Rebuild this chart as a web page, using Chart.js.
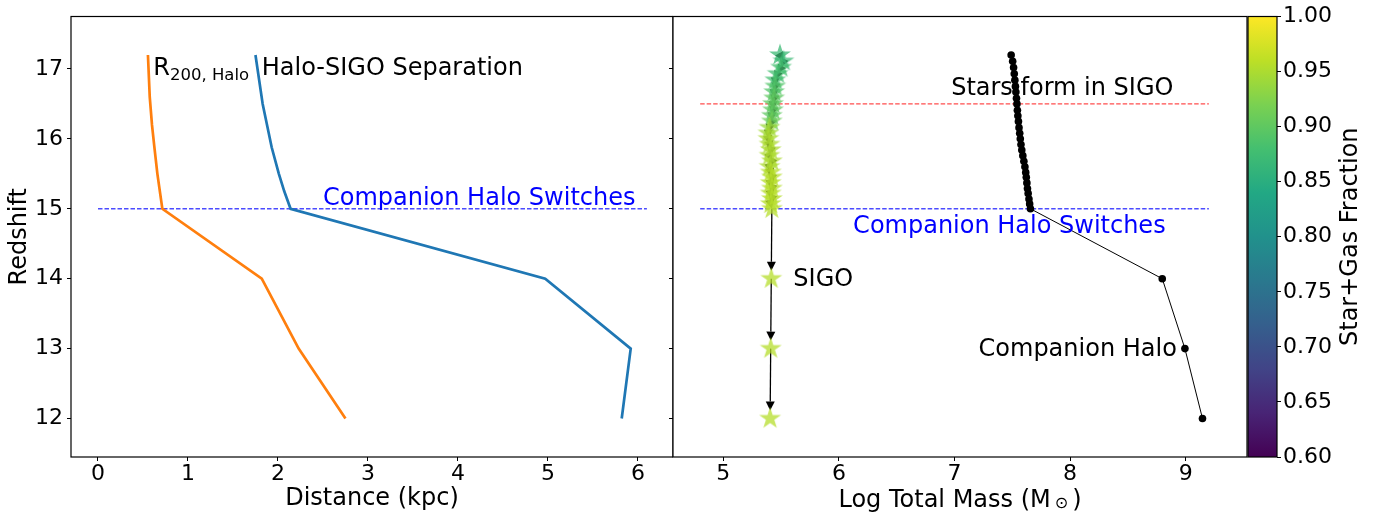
<!DOCTYPE html>
<html>
<head>
<meta charset="utf-8">
<script src="https://cdn.jsdelivr.net/npm/chart.js@4/dist/chart.umd.min.js"></script>
<style>
  html, body { margin: 0; padding: 0; background: #fff; }
  #wrap { position: relative; width: 1374px; height: 513px; overflow: hidden; }
  #wrap canvas { position: absolute; top: 0; }
</style>
</head>
<body>
<div id="wrap">
  <canvas id="left" width="673" height="513" style="left:0"></canvas>
  <canvas id="right" width="585" height="513" style="left:663px"></canvas>
  <canvas id="cbar" width="134" height="513" style="left:1240px"></canvas>
</div>
<script>
// Values

// left panel: distance (kpc) against redshift
const separationRedshift = [17.2, 16.5, 15.88, 15.5, 15.25, 15.0, 14.0, 13.0, 12.0];
const separationDistance = [1.75, 1.83, 1.93, 2.01, 2.07, 2.14, 4.97, 5.92, 5.82];
const r200Redshift = [17.2, 16.6, 16.2, 15.9, 15.5, 15.0, 14.0, 13.0, 12.0];
const r200Distance = [0.555, 0.575, 0.60, 0.625, 0.66, 0.715, 1.82, 2.23, 2.75];
const switchLineDistance = [0, 6.1];
const switchRedshift = 15;

// right panel: log total mass against redshift
const trackRedshift = [17.20, 17.11, 17.02, 16.93, 16.84, 16.75, 16.67, 16.58, 16.50, 16.41,
  16.33, 16.25, 16.16, 16.08, 16.00, 15.92, 15.84, 15.76, 15.68, 15.60,
  15.52, 15.45, 15.37, 15.29, 15.22, 15.14, 15.07, 15.00, 14.00, 13.00, 12.00];
const sigoMass = [5.49, 5.52, 5.50, 5.47, 5.45, 5.45, 5.44, 5.44, 5.43, 5.43,
  5.42, 5.42, 5.40, 5.39, 5.39, 5.40, 5.41, 5.40, 5.42, 5.40,
  5.41, 5.42, 5.41, 5.42, 5.41, 5.42, 5.41, 5.42, 5.415, 5.41, 5.405];
const sigoFraction = [0.87, 0.87, 0.88, 0.88, 0.88, 0.89, 0.89, 0.90, 0.90, 0.90,
  0.90, 0.91, 0.94, 0.945, 0.95, 0.95, 0.95, 0.95, 0.95, 0.95,
  0.955, 0.955, 0.955, 0.955, 0.955, 0.955, 0.955, 0.955, 0.955, 0.955, 0.955];
const haloMass = [7.490, 7.503, 7.511, 7.517, 7.522, 7.527, 7.531, 7.536, 7.540, 7.544,
  7.548, 7.553, 7.558, 7.564, 7.569, 7.575, 7.582, 7.591, 7.600, 7.609,
  7.616, 7.621, 7.626, 7.631, 7.637, 7.644, 7.650, 7.657, 8.797, 8.993, 9.145];
const markerLineMass = [4.8, 9.2];
const starFormRedshift = 16.5;

// tick labels
const distanceTicks = [0, 1, 2, 3, 4, 5, 6];
const redshiftTicks = [12, 13, 14, 15, 16, 17];
const massTicks = [5, 6, 7, 8, 9];
const fractionTicks = [0.60, 0.65, 0.70, 0.75, 0.80, 0.85, 0.90, 0.95, 1.00];

// viridis colour map
const viridisStops = ['#440154', '#482475', '#414487', '#355f8d', '#2a788e', '#21918c',
  '#22a884', '#44bf70', '#7ad151', '#bddf26', '#fde725'];

function hexRgb(h) {
  return [parseInt(h.slice(1, 3), 16), parseInt(h.slice(3, 5), 16), parseInt(h.slice(5, 7), 16)];
}

function viridis(v) {
  const lo = fractionTicks[0], hi = fractionTicks[fractionTicks.length - 1];
  let t = Math.min(1, Math.max(0, (v - lo) / (hi - lo))) * (viridisStops.length - 1);
  const i = Math.min(Math.floor(t), viridisStops.length - 2);
  const f = t - i;
  const a = hexRgb(viridisStops[i]), b = hexRgb(viridisStops[i + 1]);
  return a.map((c, k) => Math.round(c + (b[k] - c) * f));
}

Chart.defaults.font.family = 'DejaVu Sans';
Chart.defaults.color = '#000';

const FONT = 'DejaVu Sans';
const TICK_SIZE = 22;
const TEXT_SIZE = 24;

// star marker images, one per colour
const starCache = {};
function starImage(v) {
  const rgb = viridis(v);
  const key = rgb.join(',');
  if (starCache[key]) return starCache[key];
  const c = document.createElement('canvas');
  c.width = 26; c.height = 26;
  const g = c.getContext('2d');
  const R = 11.5, r = R * 0.381966;
  g.beginPath();
  for (let k = 0; k < 10; k++) {
    const rad = k % 2 ? r : R;
    const a = -Math.PI / 2 + k * Math.PI / 5;
    const px = 13 + rad * Math.cos(a), py = 13 + rad * Math.sin(a);
    if (k) g.lineTo(px, py); else g.moveTo(px, py);
  }
  g.closePath();
  g.fillStyle = 'rgba(' + key + ',0.75)';
  g.fill();
  starCache[key] = c;
  return c;
}

// draw a run of text pieces (for sub-scripts)
function drawParts(ctx, parts, x, y, align) {
  let total = 0;
  parts.forEach(p => {
    ctx.font = p.size + 'px "' + FONT + '"';
    total += (p.gap || 0) + ctx.measureText(p.text).width;
  });
  let cx = align === 'center' ? x - total / 2 : x;
  ctx.textBaseline = 'alphabetic';
  ctx.textAlign = 'left';
  parts.forEach(p => {
    ctx.font = p.size + 'px "' + FONT + '"';
    cx += p.gap || 0;
    ctx.fillStyle = p.color || '#000';
    ctx.fillText(p.text, cx, y + (p.dy || 0));
    cx += ctx.measureText(p.text).width;
  });
}

// frame around plot area
const framePlugin = {
  id: 'frame',
  afterDraw(chart) {
    const a = chart.chartArea, ctx = chart.ctx;
    ctx.save();
    ctx.strokeStyle = '#000';
    ctx.lineWidth = 1.2;
    ctx.strokeRect(a.left, a.top, a.right - a.left, a.bottom - a.top);
    ctx.restore();
  }
};

// text notes placed in data coordinates
function notesPlugin(notes) {
  return {
    id: 'notes',
    afterDatasetsDraw(chart) {
      const ctx = chart.ctx, xs = chart.scales.x, ys = chart.scales.y;
      ctx.save();
      notes.forEach(n => {
        const parts = n.parts || [{ text: n.text, size: TEXT_SIZE, color: n.color }];
        drawParts(ctx, parts, xs.getPixelForValue(n.x), ys.getPixelForValue(n.y), 'left');
      });
      ctx.restore();
    }
  };
}

// arrows joining the SIGO positions, drawn under the stars
const arrowPlugin = {
  id: 'arrows',
  beforeDatasetDraw(chart, args) {
    if (args.index !== 0) return;
    const ctx = chart.ctx;
    const pts = chart.getDatasetMeta(0).data;
    ctx.save();
    ctx.strokeStyle = '#000';
    ctx.fillStyle = '#000';
    ctx.lineWidth = 1.3;
    for (let i = 0; i < pts.length - 1; i++) {
      const a = pts[i], b = pts[i + 1];
      const dx = b.x - a.x, dy = b.y - a.y, d = Math.hypot(dx, dy);
      const ux = dx / d, uy = dy / d;
      const shrink = d > 30 ? 8 : 0;
      const tx = b.x - ux * shrink, ty = b.y - uy * shrink;
      const hl = 9, hw = 4.5;
      const bx = tx - ux * hl, by = ty - uy * hl;
      ctx.beginPath(); ctx.moveTo(a.x, a.y); ctx.lineTo(bx, by); ctx.stroke();
      ctx.beginPath();
      ctx.moveTo(tx, ty);
      ctx.lineTo(bx - uy * hw, by + ux * hw);
      ctx.lineTo(bx + uy * hw, by - ux * hw);
      ctx.closePath();
      ctx.fill();
    }
    ctx.restore();
  }
};

function axisGrid(len) {
  return { drawOnChartArea: false, drawTicks: true, tickLength: len, tickColor: '#000', tickWidth: 1 };
}

function fixedTicks(list) {
  return scale => { scale.ticks = list.map(v => ({ value: v })); };
}

// fixed axis thickness, and no extra room for edge labels
function fitX(h) {
  return s => { s.height = h; s.paddingLeft = 0; s.paddingRight = 0; };
}
function fitY(w) {
  return s => { s.width = w; s.paddingTop = 0; s.paddingBottom = 0; };
}

// left panel
new Chart(document.getElementById('left'), {
  type: 'scatter',
  data: {
    datasets: [
      {
        data: separationRedshift.map((z, i) => ({ x: separationDistance[i], y: z })),
        showLine: true, borderColor: '#1f77b4', borderWidth: 2.7, pointRadius: 0
      },
      {
        data: r200Redshift.map((z, i) => ({ x: r200Distance[i], y: z })),
        showLine: true, borderColor: '#ff7f0e', borderWidth: 2.7, pointRadius: 0
      },
      {
        data: switchLineDistance.map(d => ({ x: d, y: switchRedshift })),
        showLine: true, borderColor: 'rgba(0,0,255,0.7)', borderWidth: 1.4,
        borderDash: [4.5, 2], pointRadius: 0
      }
    ]
  },
  options: {
    responsive: false,
    animation: false,
    layout: { autoPadding: false, padding: { top: 16.5, right: 0, bottom: 0, left: 0 } },
    plugins: { legend: { display: false }, tooltip: { enabled: false } },
    scales: {
      x: {
        type: 'linear', min: -0.3, max: 6.39,
        afterBuildTicks: fixedTicks(distanceTicks),
        afterFit: fitX(56),
        grid: axisGrid(4),
        border: { display: false },
        ticks: { font: { size: TICK_SIZE }, padding: 0, maxRotation: 0, callback: v => String(v) },
        title: { display: true, text: 'Distance (kpc)', font: { size: TEXT_SIZE }, padding: { top: 0, bottom: 0 } }
      },
      y: {
        type: 'linear', min: 11.45, max: 17.75,
        afterBuildTicks: fixedTicks(redshiftTicks),
        afterFit: fitY(71),
        grid: axisGrid(4),
        border: { display: false },
        ticks: { font: { size: TICK_SIZE }, padding: 4, callback: v => String(v) },
        title: { display: true, text: 'Redshift', font: { size: TEXT_SIZE }, padding: { top: 5, bottom: 0 } }
      }
    }
  },
  plugins: [framePlugin, notesPlugin([
    { x: 0.614, y: 16.91, parts: [
      { text: 'R', size: TEXT_SIZE },
      { text: '200, Halo', size: 16.5, dy: 4.5 }
    ] },
    { x: 1.82, y: 16.91, text: 'Halo-SIGO Separation' },
    { x: 2.5, y: 15.06, text: 'Companion Halo Switches', color: '#0000ff' }
  ])]
});

// right panel
const massTitlePlugin = {
  id: 'massTitle',
  afterDraw(chart) {
    const a = chart.chartArea;
    const ctx = chart.ctx;
    ctx.save();
    drawParts(ctx, [
      { text: 'Log Total Mass (M', size: TEXT_SIZE },
      { text: '\u2299', size: 16, dy: 1, gap: 4 },
      { text: ')', size: TEXT_SIZE, gap: 4 }
    ], (a.left + a.right) / 2, 506.5, 'center');
    ctx.restore();
  }
};

new Chart(document.getElementById('right'), {
  type: 'scatter',
  data: {
    datasets: [
      {
        data: trackRedshift.map((z, i) => ({ x: sigoMass[i], y: z })),
        pointRadius: 11,
        pointStyle: c => starImage(sigoFraction[c.dataIndex])
      },
      {
        data: trackRedshift.map((z, i) => ({ x: haloMass[i], y: z })),
        showLine: true, borderColor: '#000', borderWidth: 1,
        pointRadius: 3.8, pointBackgroundColor: '#000', pointBorderWidth: 0
      },
      {
        data: markerLineMass.map(m => ({ x: m, y: starFormRedshift })),
        showLine: true, borderColor: 'rgba(255,0,0,0.7)', borderWidth: 1.4,
        borderDash: [4.5, 2], pointRadius: 0
      },
      {
        data: markerLineMass.map(m => ({ x: m, y: switchRedshift })),
        showLine: true, borderColor: 'rgba(0,0,255,0.7)', borderWidth: 1.4,
        borderDash: [4.5, 2], pointRadius: 0
      }
    ]
  },
  options: {
    responsive: false,
    animation: false,
    layout: { autoPadding: false, padding: { top: 16.5, right: 1, bottom: 0, left: 0 } },
    plugins: { legend: { display: false }, tooltip: { enabled: false } },
    scales: {
      x: {
        type: 'linear', min: 4.565, max: 9.53,
        afterBuildTicks: fixedTicks(massTicks),
        afterFit: fitX(56),
        grid: axisGrid(4),
        border: { display: false },
        ticks: { font: { size: TICK_SIZE }, padding: 0, maxRotation: 0, callback: v => String(v) }
      },
      y: {
        type: 'linear', min: 11.45, max: 17.75,
        afterBuildTicks: fixedTicks(redshiftTicks),
        afterFit: fitY(10),
        grid: axisGrid(4),
        border: { display: false },
        ticks: { display: false }
      }
    }
  },
  plugins: [arrowPlugin, framePlugin, massTitlePlugin, notesPlugin([
    { x: 6.971, y: 16.626, text: 'Stars form in SIGO' },
    { x: 6.123, y: 14.654, text: 'Companion Halo Switches', color: '#0000ff' },
    { x: 5.606, y: 13.891, text: 'SIGO' },
    { x: 7.208, y: 12.893, text: 'Companion Halo' }
  ])]
});

// colour bar
const cbarTitlePlugin = {
  id: 'cbarTitle',
  afterDraw(chart) {
    const ctx = chart.ctx;
    ctx.save();
    ctx.translate(117, 236.7);
    ctx.rotate(-Math.PI / 2);
    ctx.font = TEXT_SIZE + 'px "' + FONT + '"';
    ctx.fillStyle = '#000';
    ctx.textAlign = 'center';
    ctx.textBaseline = 'alphabetic';
    ctx.fillText('Star+Gas Fraction', 0, 0);
    ctx.restore();
  }
};

new Chart(document.getElementById('cbar'), {
  type: 'bar',
  data: {
    labels: [''],
    datasets: [{
      data: [[fractionTicks[0], fractionTicks[fractionTicks.length - 1]]],
      barPercentage: 1, categoryPercentage: 1, borderWidth: 0,
      backgroundColor: c => {
        const a = c.chart.chartArea;
        if (!a) return viridisStops[5];
        const g = c.chart.ctx.createLinearGradient(0, a.bottom, 0, a.top);
        viridisStops.forEach((col, i) => g.addColorStop(i / (viridisStops.length - 1), col));
        return g;
      }
    }]
  },
  options: {
    responsive: false,
    animation: false,
    layout: { autoPadding: false, padding: { top: 16.5, right: 0, bottom: 56, left: 8 } },
    plugins: { legend: { display: false }, tooltip: { enabled: false } },
    scales: {
      x: { display: false },
      y: {
        position: 'right', min: 0.6, max: 1.0,
        afterBuildTicks: fixedTicks(fractionTicks),
        afterFit: fitY(97),
        grid: axisGrid(4),
        border: { display: false },
        ticks: { font: { size: TICK_SIZE }, padding: 2, callback: v => v.toFixed(2) }
      }
    }
  },
  plugins: [framePlugin, cbarTitlePlugin]
});
</script>
</body>
</html>
